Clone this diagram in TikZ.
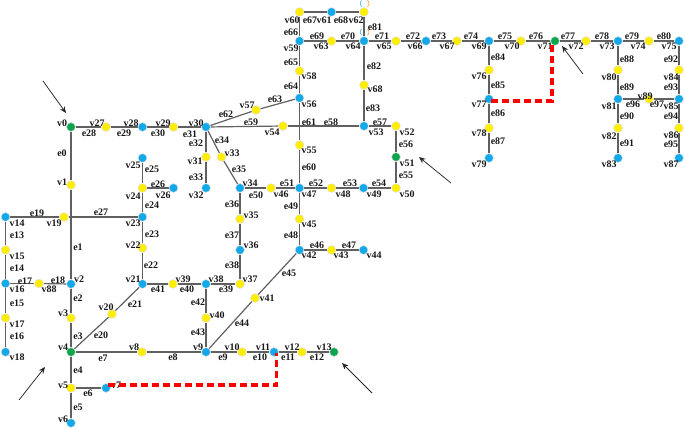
\documentclass[tikz,border=0pt]{standalone}
\usepackage{fontspec}
\setmainfont{Liberation Serif}
\usetikzlibrary{arrows.meta,backgrounds}
\definecolor{nyel}{HTML}{FFEE00}
\definecolor{nblu}{HTML}{12A9EA}
\definecolor{ngrn}{HTML}{0BA54E}
\definecolor{lin}{HTML}{606060}
\tikzset{
  vy/.style={circle,fill=nyel,draw=black!12,line width=.5pt,minimum size=8.8pt,inner sep=0pt},
  vb/.style={vy,fill=nblu},
  vg/.style={vy,fill=ngrn},
  lab/.style={font=\fontsize{10}{10}\selectfont\bfseries,inner sep=0pt,text=black!90},
  edge/.style={draw=lin,line width=1.2pt},
  route/.style={draw=red,line width=3.2pt,dash pattern=on 7pt off 4pt},
  pointer/.style={draw=black!85,line width=.75pt,-{Stealth[length=6.5pt,width=5.5pt]}},
  mk/.style={line width=.5pt}
}
\begin{document}
\begin{tikzpicture}[x=1pt,y=-1pt]
\useasboundingbox (0,0) rectangle (685,429);
\foreach \st/\n/\x/\y in {
vg/v0/71/127,vy/v1/71/185,vb/v2/71/284,vy/v3/71/318,vg/v4/71/352,vy/v5/71/388,vb/v6/71/423,vb/v7/106/388,
vy/v8/142/352,vb/v9/206/352,vy/v10/242/352,vb/v11/274/352,vy/v12/302/352,vg/v13/334/352,
vb/v14/5.5/217,vy/v15/5.5/250,vb/v16/5.5/283.5,vy/v17/5.5/318,vb/v18/5.5/352,vy/v19/64/217,vy/v20/112/314,
vb/v21/142.5/284,vy/v22/142.5/248,vb/v23/142.5/217,vy/v24/142.5/188,vb/v25/142.5/158,vb/v26/173.5/188,
vy/v27/106/127,vb/v28/142.5/127,vy/v29/173.5/127,vb/v30/206/127,vy/v31/206/157,vb/v32/206/188,
vy/v33/221.5/157,vb/v34/240/188,vy/v35/240/219,vb/v36/240/250,vy/v37/240/284,vb/v38/206/284,vy/v39/173/284,
vy/v40/206/318,vy/v41/255/298,vb/v42/299.5/250,vy/v43/331.5/250,vb/v44/363.5/250,vy/v45/299.5/219,
vy/v46/271/188,vb/v47/299.5/188,vy/v48/331.5/188,vb/v49/363.5/188,vy/v50/396/188,vg/v51/396/157,vy/v52/396/126,
vb/v53/364/126,vy/v54/283/126,vy/v55/299.5/145,vb/v56/299.5/98,vy/v57/256/110,vy/v58/299.5/71,vb/v59/299.5/41,
vy/v60/299.5/12,vb/v61/331.5/12,vy/v62/364/12,vy/v63/331.5/41,vb/v64/364/41,vy/v65/396/41,vb/v66/426/41,
vy/v67/457/41,vy/v68/364/85,vb/v69/489/41,vy/v70/521/41,vg/v71/555/41,vy/v72/586/41,vb/v73/618/41,vy/v74/649/41,
vb/v75/679/41,vy/v76/489/70,vb/v77/489/99,vy/v78/489/128,vb/v79/489/158,vy/v80/618/70,vb/v81/618/99,vy/v82/618/128,
vb/v83/618/158,vy/v84/679/70,vb/v85/679/99,vy/v86/679/128,vb/v87/679/158,vy/v88/39/283.5,vy/v89/649/99}
{\node[\st] (\n) at (\x,\y) {};}
\begin{scope}[on background layer]
\foreach \a/\b in {
v0/v1,v1/v2,v2/v3,v3/v4,v4/v5,v5/v6,v5/v7,v4/v8,v8/v9,v9/v10,v10/v11,v11/v12,v12/v13,
v14/v15,v15/v16,v16/v17,v17/v18,v14/v19,v19/v23,v16/v88,v88/v2,v4/v20,v20/v21,v21/v22,v22/v23,v23/v24,v24/v25,v24/v26,
v0/v27,v27/v28,v28/v29,v29/v30,v30/v31,v31/v32,v30/v33,v33/v34,v34/v35,v35/v36,v36/v37,v37/v38,v38/v39,v39/v21,
v38/v40,v40/v9,v9/v41,v41/v42,v42/v43,v43/v44,v42/v45,v45/v47,v47/v55,v55/v56,v34/v46,v46/v47,v47/v48,v48/v49,v49/v50,
v50/v51,v51/v52,v52/v53,v53/v54,v54/v30,v30/v57,v57/v56,v56/v58,v58/v59,v59/v60,v60/v61,v61/v62,v62/v64,v59/v63,v63/v64,
v64/v65,v65/v66,v66/v67,v67/v69,v69/v70,v70/v71,v71/v72,v72/v73,v73/v74,v74/v75,v64/v68,v68/v53,
v69/v76,v76/v77,v77/v78,v78/v79,v73/v80,v80/v81,v81/v82,v82/v83,v75/v84,v84/v85,v85/v86,v86/v87,v81/v89,v89/v85}
{\draw[edge] (\a) -- (\b);}
\end{scope}
\foreach \t/\x/\y in {
v0/62/123,v1/62/182,v2/79/279,v3/63/313,v4/63/347,v5/63/385,v6/63/419,v7/116/385,v8/134/347,v9/198/347,v10/232/347,v11/263/347,v12/292/347,v13/324/347,
v14/17/223,v15/17/256,v16/17/289,v17/17/324,v18/17/357,v19/54/223,v20/106/307,v21/133/279,v22/133/245,v23/133/223,v24/133/196,v25/133/165,v26/163/195,
v27/97/123,v28/131/123,v29/163/123,v30/196/123,v31/195/161,v32/196/195,v33/232/153,v34/250/183,v35/251/215,v36/251/245,v37/250/279,v38/216/279,v39/183/279,
v40/217/315,v41/267/298,v42/309/255,v43/341/255,v44/374/255,v45/309/224,v46/281/194,v47/309/194,v48/343/194,v49/374/194,v50/407/194,v51/407/163,v52/407/132,
v53/376/132,v54/272/132,v55/309/150,v56/309/104,v57/247/105,v58/309/76,v59/291/48,v60/292/20,v61/324/20,v62/356/20,v63/321/46,v64/353/46,v65/384/46,v66/415/46,v67/447/46,v68/375/89,
v69/479/46,v70/512/46,v71/545/46,v72/576/46,v73/607/46,v74/638/46,v75/669/46,v76/479/76,v77/479/104,v78/479/133,v79/479/164,v80/609/77,v81/609/106,v82/609/136,v83/609/164,
v84/671/77,v85/671/106,v86/671/135,v87/671/164,v88/49/289,v89/645/96,
e0/62/153,e1/78/247,e2/78/298,e3/78/336,e4/78/370,e5/78/407,e6/88/393,e7/103/358,e8/173/357,e9/223/357,e10/260/357,e11/288/357,e12/317/357,e13/17/235,e14/17/268,e15/17/303,e16/17/336,
e17/25/281,e18/58/280,e19/37/213,e20/101/335,e21/135/304,e22/151/265,e23/152/234,e24/152/205,e25/152/169,e26/158/184,e27/101/212,e28/89/133,e29/124/133,e30/158/133,e31/190/134,
e32/196/143,e33/196/177,e34/222/140,e35/239/169,e36/232/204,e37/232/235,e38/232/265,e39/226/289,e40/187/289,e41/158/289,e42/198/302,e43/198/332,e44/242/323,e45/289/273,
e46/317/245,e47/349/245,e48/291/235,e49/291/206,e50/256/195,e51/287/183,e52/316/183,e53/350/183,e54/379/183,e55/406/175,e56/406/144,e57/380/122,e58/331/122,e59/251/122,e60/309/167,
e61/309/122,e62/226/114,e63/275/99,e64/291/86,e65/291/62,e66/291/32,e67/310/20,e68/341/20,e69/317/36,e70/348/36,e71/382/36,e72/413/36,e73/439/36,e74/471/36,e75/505/36,e76/536/36,
e77/568/36,e78/602/36,e79/632/36,e80/664/36,e81/375/27,e82/374/66,e83/373/108,e84/498/57,e85/498/85,e86/498/113,e87/498/141,e88/627/59,e89/627/87,e90/627/116,e91/627/143,
e92/671/59,e93/671/87,e94/671/116,e95/671/144.5,e96/633/104,e97/657/104}
{\node[lab] (t\t) at (\x,\y) {\t};}
% blue and orange ticks over v62 and v64
\foreach \n/\yy in {v62/-11.5,v64/-12}{
  \draw[mk,nblu] ([shift={(-2.4,\yy)}]\n.center) arc[start angle=130,end angle=230,radius=4pt];
  \draw[mk,orange] ([shift={(3.6,\yy)}]\n.center) arc[start angle=50,end angle=-50,radius=4pt];
}
% red routes
\coordinate (r1) at (108,385); \coordinate (r2) at (276.5,385); \coordinate (r3) at (276.5,353);
\coordinate (s1) at (491,101); \coordinate (s2) at (552,101); \coordinate (s3) at (552,45);
\draw[route] (r1) -- (r2) -- (r3);
\draw[route] (s1) -- (s2) -- (s3);
% arrows
\coordinate (a1) at (43,81); \coordinate (a2) at (66,113);
\coordinate (b1) at (19,400); \coordinate (b2) at (45,367);
\coordinate (c1) at (372,393); \coordinate (c2) at (342,363);
\coordinate (d1) at (451,183); \coordinate (d2) at (419,157);
\coordinate (f1) at (583,74); \coordinate (f2) at (562,46);
\foreach \p/\q in {a1/a2,b1/b2,c1/c2,d1/d2,f1/f2}{\draw[pointer] (\p) -- (\q);}
\end{tikzpicture}
\end{document}
